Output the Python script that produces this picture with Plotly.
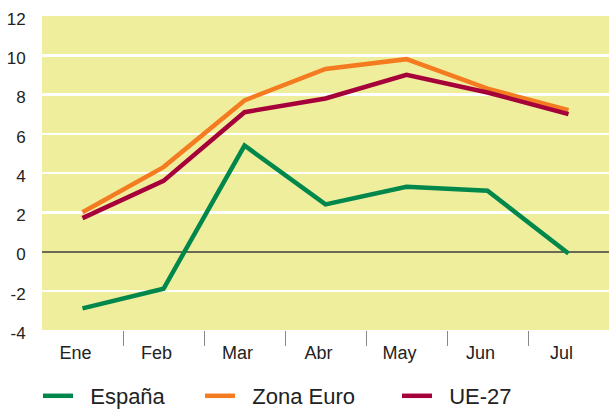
import plotly.graph_objects as go

months = ["Ene", "Feb", "Mar", "Abr", "May", "Jun", "Jul"]
espana = [-2.9, -1.9, 5.4, 2.4, 3.3, 3.1, -0.1]
zona_euro = [2.0, 4.3, 7.7, 9.3, 9.8, 8.3, 7.2]
ue27 = [1.7, 3.6, 7.1, 7.8, 9.0, 8.1, 7.0]
yticks = [-4, -2, 0, 2, 4, 6, 8, 10, 12]
ytick_labels = ["-4", "-2", "0", "2", "4", "6", "8", "10", "12"]

xs = list(range(len(months)))
fig = go.Figure()
series = [("España", espana, "#00874B", "legend", 38),
          ("Zona Euro", zona_euro, "#F47B20", "legend2", 200),
          ("UE-27", ue27, "#A6003A", "legend3", 397)]
legend_layout = {}
for name, vals, col, lg, lx in series:
    fig.add_trace(go.Scatter(x=xs, y=vals, name="\u00a0\u00a0" + name, mode="lines",
                             line=dict(color=col, width=4.5), legend=lg))
    legend_layout[lg] = dict(orientation="h", xref="container", yref="container",
                             x=lx / 609, xanchor="left", y=1 - 396 / 410, yanchor="middle",
                             font=dict(size=22, color="#222222"), itemwidth=30,
                             bgcolor="rgba(0,0,0,0)")

fig.update_layout(
    width=609, height=410,
    margin=dict(l=42, r=0, t=16, b=80, autoexpand=False),
    paper_bgcolor="white", plot_bgcolor="#EFEE9C",
    font=dict(family="Liberation Sans, Arial, sans-serif", color="#222222", size=17),
    showlegend=True,
    xaxis=dict(range=[-0.5, 6.5], tickvals=xs, ticktext=months, showgrid=False, zeroline=False,
               ticks="outside", ticklen=6, tickcolor="rgba(0,0,0,0)",
               tickfont=dict(size=18), ticklabelshift=-7,
               minor=dict(tickvals=[0.5, 1.5, 2.5, 3.5, 4.5, 5.5], ticks="outside", ticklen=15,
                          tickcolor="#888888", tickwidth=1, showgrid=False),
               showline=False, fixedrange=True),
    yaxis=dict(range=[-4, 12], tickvals=yticks, ticktext=ytick_labels,
               showgrid=True, gridcolor="white", gridwidth=2.5,
               zeroline=True, zerolinecolor="#6B6B55", zerolinewidth=2,
               tickfont=dict(size=17), ticklabelshift=3,
               ticks="outside", ticklen=12, tickcolor="rgba(0,0,0,0)", showline=False,
               fixedrange=True),
    **legend_layout,
)
fig.write_html("out.html", config={"displayModeBar": False, "staticPlot": True},
               post_script="document.body.style.margin='0px';document.body.style.overflow='hidden';")
